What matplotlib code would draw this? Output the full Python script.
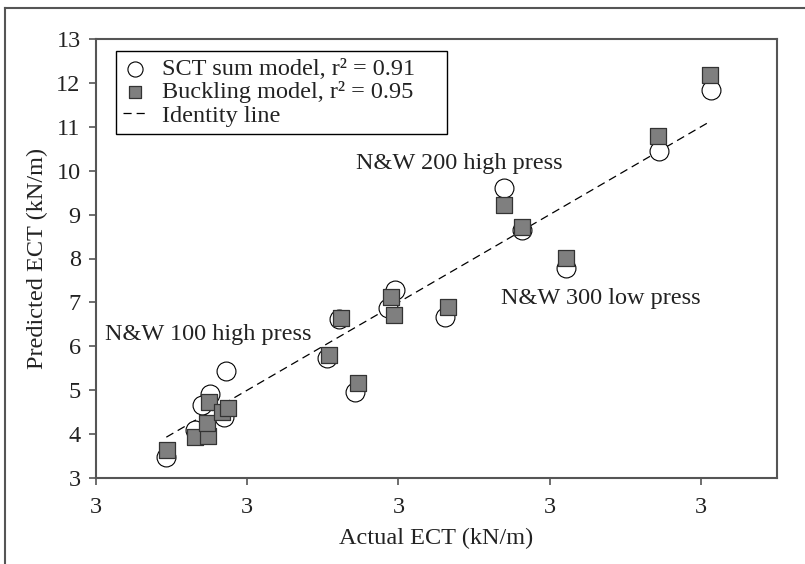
import matplotlib
matplotlib.use("Agg")
import matplotlib.pyplot as plt
from matplotlib.lines import Line2D

# values
actual_sct = [3.93, 4.31, 4.40, 4.51, 4.69, 4.72, 6.06, 6.21, 6.43, 6.86, 6.96,
              7.62, 8.40, 8.63, 9.22, 10.45, 11.13]
pred_sct = [3.48, 4.09, 4.66, 4.91, 4.39, 5.43, 5.73, 6.62, 4.96, 6.87, 7.28,
            6.66, 9.60, 8.64, 7.78, 10.46, 11.83]

actual_buck = [3.94, 4.31, 4.48, 4.47, 4.49, 4.67, 4.75, 6.08, 6.24, 6.47, 6.90,
               6.94, 7.66, 8.40, 8.63, 9.22, 10.43, 11.12]
pred_buck = [3.64, 3.93, 3.96, 4.25, 4.73, 4.50, 4.59, 5.80, 6.64, 5.16, 7.12,
             6.71, 6.89, 9.23, 8.71, 8.01, 10.80, 12.19]

x_ticks = [3, 5, 7, 9, 11]
x_tick_labels = ["3", "3", "3", "3", "3"]
y_ticks = list(range(3, 14))

notes = ["N&W 200 high press", "N&W 300 low press", "N&W 100 high press"]
note_x = [7.80, 9.67, 4.49]
note_y = [10.17, 7.08, 6.27]

plt.rcParams['font.family'] = ['Liberation Serif', 'DejaVu Serif']
fs = 17.5
txt = '#222222'
frame = '#555555'

fig = plt.figure(figsize=(8.05, 5.64), dpi=100)
ax = fig.add_axes([96 / 805, 1 - 478 / 564, 680.5 / 805, 439 / 564])

# outer frame (top and left only)
fig.add_artist(Line2D([5 / 805, 1], [1 - 8 / 564, 1 - 8 / 564], color=frame, lw=1.5,
                      transform=fig.transFigure))
fig.add_artist(Line2D([5 / 805, 5 / 805], [0, 1 - 8 / 564], color=frame, lw=1.5,
                      transform=fig.transFigure))

lo = min(actual_sct + actual_buck)
hi = max(actual_sct + actual_buck)
ax.plot([lo, hi], [lo, hi], color='black', lw=0.9, dashes=(6.5, 4),
        label='Identity line', zorder=2)
ax.scatter(actual_sct, pred_sct, s=185, marker='o', facecolor='white',
           edgecolor='black', linewidth=0.8, label='SCT sum model, r² = 0.91    ', zorder=3)
ax.scatter(actual_buck, pred_buck, s=118, marker='s', facecolor='#7f7f7f',
           edgecolor='#333333', linewidth=0.9, label='Buckling model, r² = 0.95', zorder=4)

for t, x, y in zip(notes, note_x, note_y):
    ax.text(x, y, t, ha='center', va='center', fontsize=fs, color=txt)

ax.set_xlim(3, 12)
ax.set_ylim(3, 13)
ax.set_xticks(x_ticks)
ax.set_xticklabels(x_tick_labels)
ax.set_yticks(y_ticks)
ax.tick_params(axis='both', direction='out', length=5, width=1.2, color=frame,
               labelsize=fs, labelcolor=txt, top=False, right=False)
ax.tick_params(axis='x', pad=9)
ax.tick_params(axis='y', pad=6)
for sp in ax.spines.values():
    sp.set_color(frame)
    sp.set_linewidth(1.5)

ax.set_xlabel('Actual ECT (kN/m)', fontsize=fs, color=txt, labelpad=7)
ax.set_ylabel('Predicted ECT (kN/m)', fontsize=fs, color=txt, labelpad=6)

h, l = ax.get_legend_handles_labels()
order = [1, 2, 0]
leg = ax.legend([h[i] for i in order], [l[i] for i in order], loc='upper left',
                bbox_to_anchor=(0.0294, 0.973), borderaxespad=0, fontsize=fs,
                frameon=True, fancybox=False, edgecolor='black', framealpha=1,
                handlelength=1.0, handletextpad=0.6, labelspacing=0.05,
                borderpad=0.3, markerscale=0.8)
leg.get_frame().set_linewidth(1.0)
for t in leg.get_texts():
    t.set_color(txt)

fig.savefig('out.png', dpi=100)
